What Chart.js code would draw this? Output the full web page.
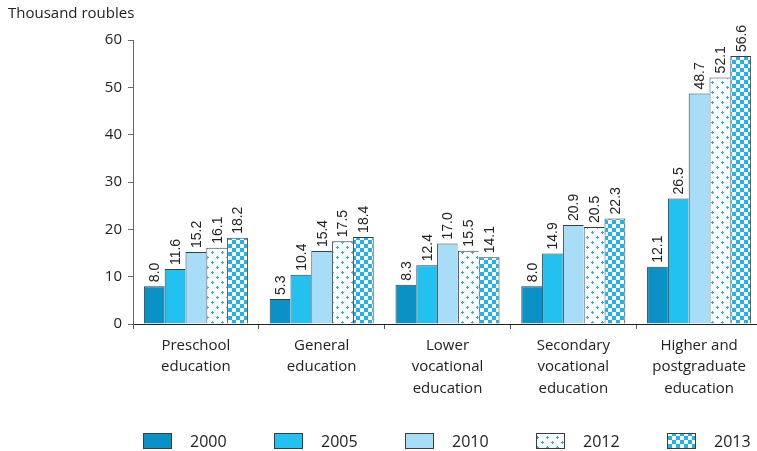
<!DOCTYPE html>
<html>
<head>
<meta charset="utf-8">
<script src="https://cdn.jsdelivr.net/npm/chart.js@4/dist/chart.umd.min.js"></script>
<style>
  html, body { margin: 0; padding: 0; background: #fff; overflow: hidden; }
  #wrap { width: 762px; height: 451px; }
</style>
</head>
<body>
<div id="wrap"><canvas id="c" width="762" height="451"></canvas></div>
<script>
// Average spending per student by level of education, thousand roubles
const categories = [
  ['Preschool', 'education'],
  ['General', 'education'],
  ['Lower', 'vocational', 'education'],
  ['Secondary', 'vocational', 'education'],
  ['Higher and', 'postgraduate', 'education']
];
const years = ['2000', '2005', '2010', '2012', '2013'];
const values2000 = [8.0, 5.3, 8.3, 8.0, 12.1];
const values2005 = [11.6, 10.4, 12.4, 14.9, 26.5];
const values2010 = [15.2, 15.4, 17.0, 20.9, 48.7];
const values2012 = [16.1, 17.5, 15.5, 20.5, 52.1];
const values2013 = [18.2, 18.4, 14.1, 22.3, 56.6];
const yTicks = [0, 10, 20, 30, 40, 50, 60];
const unitLabel = 'Thousand roubles';

const UI_FONT = '"Open Sans", "Noto Sans", sans-serif';
const NUM_FONT = '"Liberation Sans", Arial, sans-serif';

// Fill patterns for the 2012 (dotted) and 2013 (checkered) series
function dottedPattern() {
  const c = document.createElement('canvas');
  c.width = 10; c.height = 10;
  const g = c.getContext('2d');
  g.fillStyle = '#ffffff';
  g.fillRect(0, 0, 10, 10);
  g.fillStyle = '#1fb2ec';
  [[2, 2], [7, 7]].forEach(([x, y]) => {
    g.fillRect(x - 1, y, 3, 1);
    g.fillRect(x, y - 1, 1, 3);
  });
  return g.createPattern(c, 'repeat');
}
function checkerPattern() {
  const c = document.createElement('canvas');
  c.width = 8; c.height = 8;
  const g = c.getContext('2d');
  g.fillStyle = '#ffffff';
  g.fillRect(0, 0, 8, 8);
  g.fillStyle = '#1db4ec';
  g.fillRect(0, 0, 4, 4);
  g.fillRect(4, 4, 4, 4);
  return g.createPattern(c, 'repeat');
}

const seriesValues = [values2000, values2005, values2010, values2012, values2013];
const seriesFills = ['#0a92c6', '#22c1ef', '#a8ddf7', dottedPattern(), checkerPattern()];

const datasets = years.map((y, i) => ({
  label: y,
  data: seriesValues[i],
  backgroundColor: seriesFills[i],
  borderColor: '#3c3c3c',
  borderWidth: { top: 1, left: 1, right: i === years.length - 1 ? 1 : 0, bottom: 0 },
  borderSkipped: 'start',
  categoryPercentage: 0.827,
  barPercentage: 1.0
}));

// Rotated value labels above each bar
const valueLabels = {
  id: 'valueLabels',
  afterDatasetsDraw(chart) {
    const ctx = chart.ctx;
    ctx.save();
    ctx.font = '14px ' + NUM_FONT;
    ctx.fillStyle = '#222';
    ctx.textAlign = 'left';
    ctx.textBaseline = 'middle';
    chart.data.datasets.forEach((ds, di) => {
      chart.getDatasetMeta(di).data.forEach((bar, j) => {
        ctx.save();
        ctx.translate(bar.x + 1, bar.y - 4);
        ctx.rotate(-Math.PI / 2);
        ctx.fillText(ds.data[j].toFixed(1), 0, 0);
        ctx.restore();
      });
    });
    ctx.restore();
  }
};

// Legend row along the bottom edge
const bottomLegend = {
  id: 'bottomLegend',
  afterDraw(chart) {
    const ctx = chart.ctx;
    const area = chart.chartArea;
    const cy = chart.height - 10;
    const step = 131;
    const boxW = 29, boxH = 16;
    ctx.save();
    ctx.font = '16px ' + UI_FONT;
    ctx.textBaseline = 'middle';
    ctx.textAlign = 'left';
    chart.data.datasets.forEach((ds, i) => {
      const x = area.left + 10 + i * step;
      ctx.fillStyle = ds.backgroundColor;
      ctx.fillRect(x, cy - boxH / 2, boxW, boxH);
      ctx.strokeStyle = '#3c3c3c';
      ctx.lineWidth = 1;
      ctx.strokeRect(x + 0.5, cy - boxH / 2 + 0.5, boxW - 1, boxH - 1);
      ctx.fillStyle = '#222';
      ctx.fillText(ds.label, x + 47, cy + 1);
    });
    ctx.restore();
  }
};

new Chart(document.getElementById('c'), {
  type: 'bar',
  data: { labels: categories, datasets },
  plugins: [valueLabels, bottomLegend],
  options: {
    responsive: false,
    animation: false,
    layout: { padding: { left: 8, right: 0, top: 0, bottom: 0 } },
    plugins: {
      legend: { display: false },
      tooltip: { enabled: false },
      title: {
        display: true,
        text: unitLabel,
        align: 'start',
        color: '#222',
        font: { family: UI_FONT, size: 15, weight: 'normal', lineHeight: 1.2 },
        padding: { top: 5, bottom: 17 }
      }
    },
    scales: {
      x: {
        afterFit(s) { s.height = 127; },
        grid: { display: true, drawOnChartArea: false, drawTicks: true, tickLength: 5, color: '#555', offset: true },
        border: { display: true, color: '#222', width: 1 },
        ticks: {
          color: '#222',
          padding: 6,
          font: { family: UI_FONT, size: 15, lineHeight: 1.43 },
          maxRotation: 0,
          autoSkip: false
        }
      },
      y: {
        min: 0,
        max: 60,
        afterFit(s) { s.width = 125; },
        afterBuildTicks(s) { s.ticks = yTicks.map(v => ({ value: v })); },
        grid: { display: true, drawOnChartArea: false, drawTicks: true, tickLength: 5, color: '#666' },
        border: { display: true, color: '#666', width: 1 },
        ticks: {
          color: '#222',
          padding: 6,
          font: { family: UI_FONT, size: 15 }
        }
      }
    }
  }
});
</script>
</body>
</html>
